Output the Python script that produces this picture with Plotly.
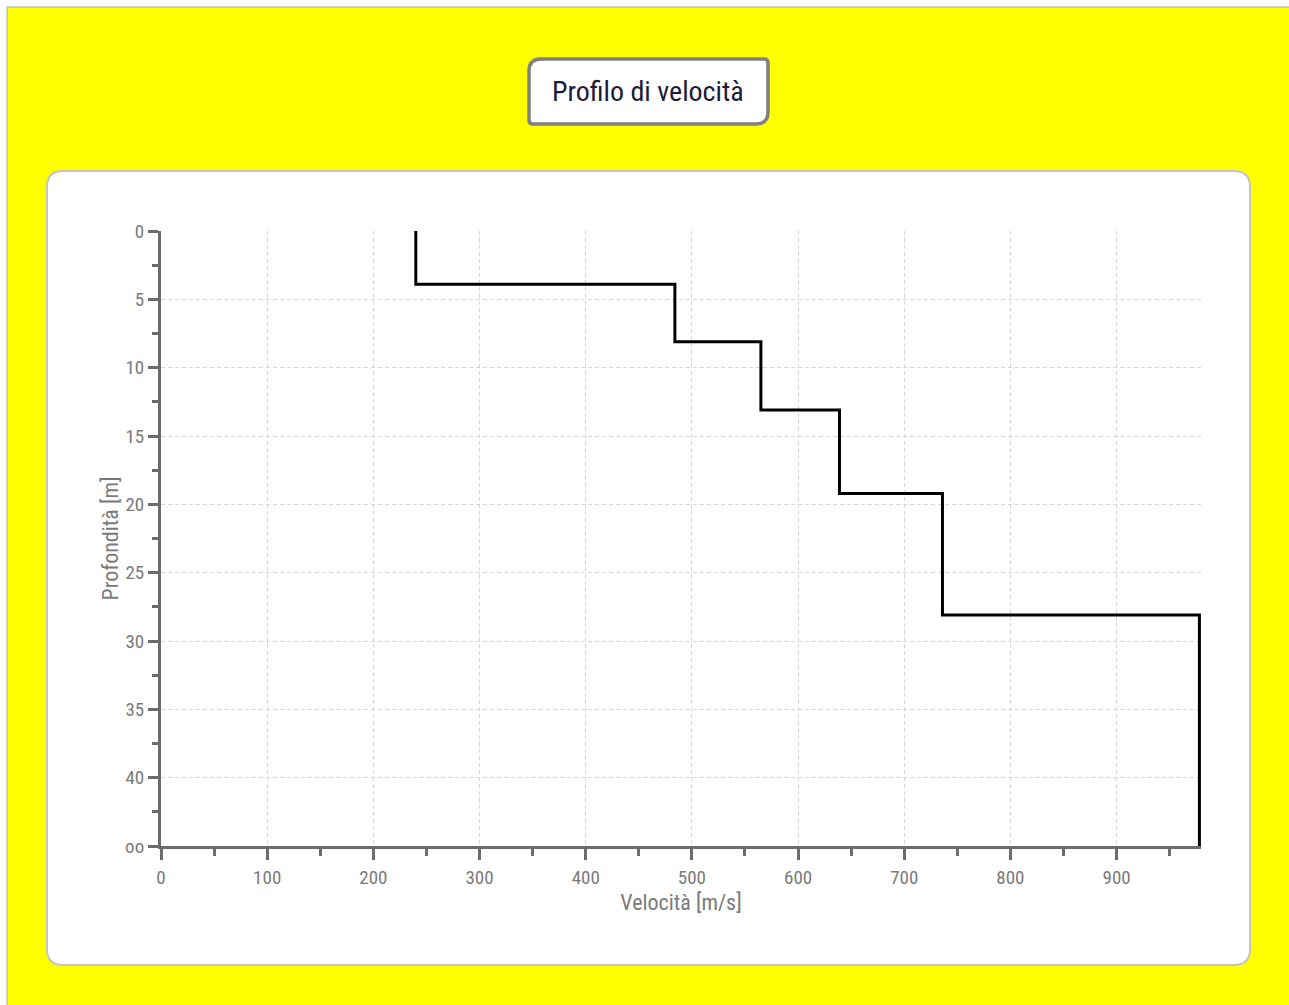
import plotly.graph_objects as go

# Layer velocities [m/s] and depth limits [m]
velocities = [240, 484, 565, 639, 736, 978]
depth_top = [0, 3.9, 8.1, 13.1, 19.2, 28.1]
depth_bottom = [3.9, 8.1, 13.1, 19.2, 28.1, 45]

x_ticks = [0, 100, 200, 300, 400, 500, 600, 700, 800, 900]
y_ticks = [0, 5, 10, 15, 20, 25, 30, 35, 40, 45]
y_tick_text = ["0", "5", "10", "15", "20", "25", "30", "35", "40", "oo"]

# step profile: each layer is a vertical segment at its velocity
xs, ys = [], []
for v, d0, d1 in zip(velocities, depth_top, depth_bottom):
    xs += [v, v]
    ys += [d0, d1]

W, H = 1289, 1005
L, R, T, B = 161, 1201, 231, 846
FONT = "Liberation Sans Narrow, Roboto Condensed, Roboto"


def px(x):
    return (x - L) / (R - L)


def py(y):
    return (B - y) / (B - T)


def rounded_path(x0, y0, x1, y1, r_tl, r_tr, r_br, r_bl):
    rx = lambda r: r / (R - L)
    ry = lambda r: r / (B - T)
    X0, X1, Y0, Y1 = px(x0), px(x1), py(y0), py(y1)
    p = f"M {X0 + rx(r_tl)},{Y0} L {X1 - rx(r_tr)},{Y0} Q {X1},{Y0} {X1},{Y0 - ry(r_tr)} "
    p += f"L {X1},{Y1 + ry(r_br)} Q {X1},{Y1} {X1 - rx(r_br)},{Y1} "
    p += f"L {X0 + rx(r_bl)},{Y1} Q {X0},{Y1} {X0},{Y1 + ry(r_bl)} "
    p += f"L {X0},{Y0 - ry(r_tl)} Q {X0},{Y0} {X0 + rx(r_tl)},{Y0} Z"
    return p


fig = go.Figure()
fig.add_trace(go.Scatter(
    x=xs, y=ys, mode="lines",
    line=dict(color="#000000", width=3),
    hoverinfo="skip", showlegend=False,
))

axis_color = "#6b6b6b"
tick_font = dict(family=FONT, size=19, color="#7a7a7a")

shapes = [
    # yellow page with thin grey frame
    dict(type="rect", xref="paper", yref="paper",
         x0=px(7), y0=py(7), x1=px(1300), y1=py(1015),
         fillcolor="#ffff00", line=dict(color="#a8a8a8", width=1), layer="below"),
    # white chart panel
    dict(type="path", xref="paper", yref="paper",
         path=rounded_path(47, 171, 1250, 965, 16, 16, 16, 16),
         fillcolor="#ffffff", line=dict(color="#c4c4c4", width=2), layer="below"),
    # title box
    dict(type="path", xref="paper", yref="paper",
         path=rounded_path(529, 59, 768, 124, 12, 4, 12, 4),
         fillcolor="#ffffff", line=dict(color="#808080", width=3.5), layer="below"),
]

fig.update_layout(
    width=W, height=H,
    margin=dict(l=L, r=W - R, t=T, b=H - B),
    paper_bgcolor="#ffffff",
    plot_bgcolor="rgba(0,0,0,0)",
    shapes=shapes,
    showlegend=False,
    annotations=[dict(
        text="Profilo di velocità", xref="paper", yref="paper",
        x=px(648), y=py(91), xanchor="center", yanchor="middle",
        showarrow=False, font=dict(family=FONT, size=28, color="#1c1c3a"),
    )],
)

fig.update_xaxes(
    range=[0, 979.5], tickvals=x_ticks, ticks="outside", ticklen=11, tickwidth=3,
    tickcolor=axis_color, showline=True, linecolor=axis_color, linewidth=3,
    showgrid=True, gridcolor="#d6d6d6", griddash="4px,3px", gridwidth=1,
    zeroline=False, tickfont=tick_font, ticklabelstandoff=1,
    minor=dict(dtick=50, tick0=0, ticks="outside", ticklen=7, tickwidth=3,
               tickcolor=axis_color, showgrid=False),
    title=dict(text="Velocità [m/s]", font=dict(family=FONT, size=22, color="#7a7a7a"),
               standoff=7),
)
fig.update_yaxes(
    range=[45, 0], tickvals=y_ticks, ticktext=y_tick_text, ticks="outside", ticklen=10,
    tickwidth=3, tickcolor=axis_color, showline=True, linecolor=axis_color, linewidth=3,
    showgrid=True, gridcolor="#d6d6d6", griddash="4px,3px", gridwidth=1,
    zeroline=False, tickfont=tick_font,
    minor=dict(dtick=2.5, tick0=0, ticks="outside", ticklen=6, tickwidth=3,
               tickcolor=axis_color, showgrid=False),
    title=dict(text="Profondità [m]", font=dict(family=FONT, size=22, color="#7a7a7a"),
               standoff=1),
)

fig.write_html("out.html")
